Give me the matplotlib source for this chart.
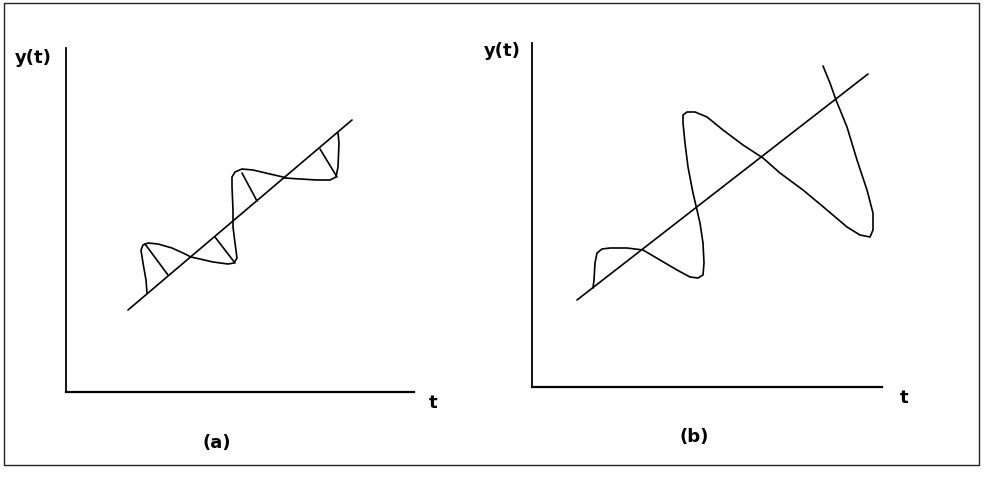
import matplotlib
matplotlib.use("Agg")
import matplotlib.pyplot as plt
from matplotlib.patches import Rectangle

plt.rcParams['font.family'] = ['DejaVu Sans']

# traced from the sketch, units are pixels measured from each panel's origin
# panel (a): small wave riding on the trend line
trend_a_t = [62, 286]
trend_a_y = [82, 272]
wave_a_t = [81, 80, 77, 75, 77, 82, 92, 106, 117, 125, 134, 147, 162, 168, 171, 169,
            167, 167, 167, 166, 166, 169, 176, 187, 204, 217, 219, 234, 251, 264, 270,
            272, 273, 272]
wave_a_y = [99, 112, 129, 142, 147, 149, 148, 144, 139, 135, 133, 130, 128, 129, 134, 149,
            165, 169, 182, 205, 215, 220, 223, 222, 218, 215, 214, 213, 212, 212, 215,
            225, 249, 259]
# perpendicular hatch marks (start t, start y, end t, end y)
hatch_t0 = [79, 149, 176, 254]
hatch_y0 = [148, 155, 219, 243]
hatch_t1 = [102, 169, 191, 271]
hatch_y1 = [117, 129, 191, 215]

# panel (b): growing wave that folds back over the trend
trend_b_t = [45, 336]
trend_b_y = [87, 313]
wave_b_t = [61, 62, 63, 65, 70, 78, 95, 111, 128, 145, 158, 166, 171, 172, 171, 168,
            165, 161, 156, 153, 151, 151, 155, 163, 175, 191, 211, 231, 248, 271, 295,
            315, 328, 338, 341, 341, 335, 325, 315, 304, 298, 291]
wave_b_y = [99, 107, 124, 134, 138, 139, 139, 137, 127, 117, 110, 109, 112, 124, 144, 164,
            177, 194, 220, 244, 264, 272, 275, 275, 270, 257, 242, 229, 214, 197, 177,
            160, 152, 150, 157, 174, 197, 227, 260, 287, 304, 321]

fig = plt.figure(figsize=(9.85, 4.94), dpi=100)
W, H = 985.0, 494.0

# outer frame
fig.add_artist(Rectangle((4 / W, (H - 465) / H), 975 / W, 462 / H,
                         transform=fig.transFigure, fill=False, lw=1.0, ec='#222222'))


def panel(x0, y0, x1, y1):
    ax = fig.add_axes([x0 / W, (H - y0) / H, (x1 - x0) / W, (y0 - y1) / H])
    ax.set_xlim(0, x1 - x0)
    ax.set_ylim(0, y0 - y1)
    for s in ['top', 'right']:
        ax.spines[s].set_visible(False)
    for s in ['left', 'bottom']:
        ax.spines[s].set_linewidth(1.3)
        ax.spines[s].set_color('black')
    ax.spines['bottom'].set_linewidth(1.6)
    ax.set_xticks([])
    ax.set_yticks([])
    ax.patch.set_alpha(0)
    return ax


kw = dict(color='black', lw=1.2, solid_joinstyle='round', solid_capstyle='round')

ax_a = panel(66, 392, 414, 48)
ax_a.plot(trend_a_t, trend_a_y, **kw)
ax_a.plot(wave_a_t, wave_a_y, **kw)
for a, b, c, d in zip(hatch_t0, hatch_y0, hatch_t1, hatch_y1):
    ax_a.plot([a, c], [b, d], **kw)

ax_b = panel(532, 387, 882, 43)
ax_b.plot(trend_b_t, trend_b_y, **kw)
ax_b.plot(wave_b_t, wave_b_y, **kw)

txt = dict(fontsize=13, fontweight='bold', ha='center', va='center',
           transform=fig.transFigure)
fig.text(33 / W, 1 - 58 / H, 'y(t)', **txt)
fig.text(502 / W, 1 - 51 / H, 'y(t)', **txt)
fig.text(433 / W, 1 - 403 / H, 't', **txt)
fig.text(904 / W, 1 - 398 / H, 't', **txt)
fig.text(217 / W, 1 - 443 / H, '(a)', **txt)
fig.text(694 / W, 1 - 437 / H, '(b)', **txt)

fig.savefig('out.png', dpi=100)
